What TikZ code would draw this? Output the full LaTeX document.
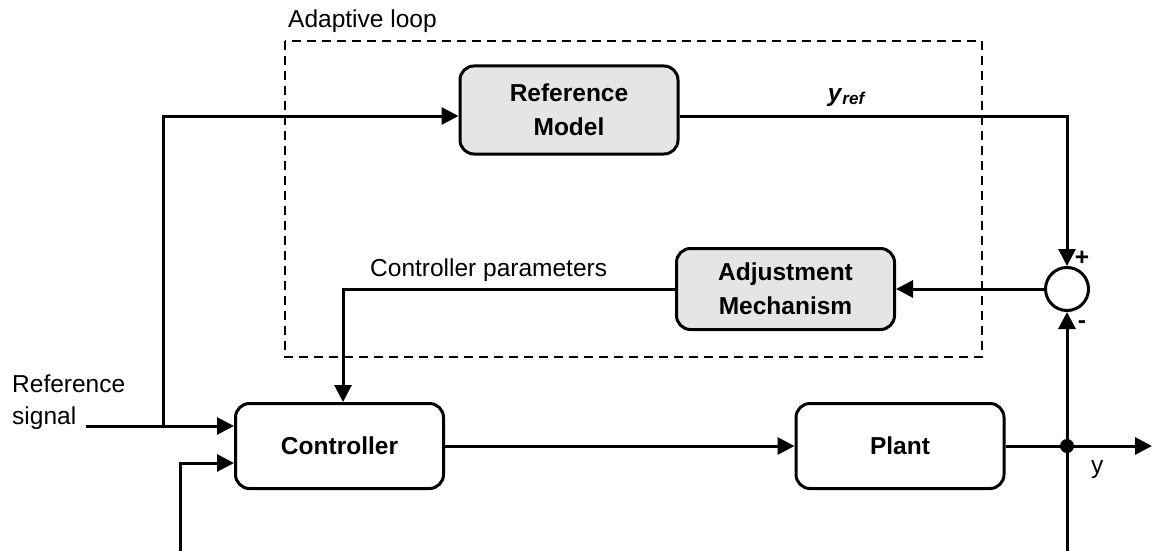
\documentclass[tikz,border=0pt]{standalone}
\usepackage{fontspec}
\setmainfont{Liberation Sans}
\usetikzlibrary{arrows.meta}

\begin{document}
\begin{tikzpicture}[x=1pt,y=-1pt,
  txt/.style={inner sep=0pt, font=\fontsize{24.5}{33}\selectfont},
  block/.style={draw, line width=3pt, rounded corners=14pt, inner sep=0pt,
    minimum width=208pt, minimum height=85pt, align=center,
    font=\fontsize{24.5}{34}\selectfont\bfseries},
  greybox/.style={block, fill=black!10, minimum width=218pt},
  wire/.style={line width=3pt},
  arr/.style={wire, -{Triangle[length=17pt,width=17pt]}},
  sumnode/.style={circle, draw, line width=3pt, minimum size=43pt, inner sep=0pt}
]
\useasboundingbox (0,0) rectangle (1154,551);

% adaptive loop frame
\draw[line width=2pt, dash pattern=on 9pt off 6pt] (285,41) rectangle (982,357);
\node[txt, anchor=base west] (looplbl) at (288,28) {Adaptive loop};

% blocks
\node[greybox, minimum height=88pt] (refm) at (569,110) {Reference\\Model};
\node[greybox, minimum height=81pt] (adj) at (785.5,289) {Adjustment\\Mechanism};
\node[block] (ctrl) at (339.5,446) {Controller};
\node[block] (plant) at (900,446) {Plant};
\node[sumnode] (sum) at (1067,289) {};

% free ends
\coordinate (rs) at (86,426);
\coordinate (br) at (163,426);
\coordinate (fb) at (180,551);
\coordinate (fbr) at (1067,551);
\coordinate (dot) at (1067,446);
\coordinate (out) at (1152,446);

% reference signal and its branch to the reference model
\draw[arr] (rs) -- (rs -| ctrl.west);
\draw[arr] (br) |- ([yshift=-6pt]refm.west);
\draw[arr] (fb) |- ([yshift=-17pt]ctrl.west);

% reference model output to the summing junction
\draw[arr] ([yshift=-6pt]refm.east) -| (sum.north);
\node[txt, anchor=base] (yref) at (847,101)
  {\textbf{\textit{y}}\textsubscript{\textbf{\textit{ref}}}};

% error to adjustment mechanism, parameters to controller
\draw[arr] (sum.west) -- (adj.east);
\draw[arr] (adj.west) -| ([xshift=3.5pt]ctrl.north);
\node[txt, anchor=base west] (parlbl) at (370,276) {Controller parameters};

% forward path and output
\draw[arr] (ctrl.east) -- (plant.west);
\draw[arr] (plant.east) -- (out);
\draw[arr] (fbr) -- (sum.south);
\fill (dot) circle (7pt);
\node[txt, anchor=base west] (ylbl) at (1091,473) {y};

% signs at the summing junction
\node[txt, font=\fontsize{24.5}{30}\selectfont\bfseries] (plus) at (1082,258) {+};
\node[txt, font=\fontsize{24.5}{30}\selectfont\bfseries] (minus) at (1082,325) {-};

% input labels
\node[txt, anchor=base west] (rl1) at (12,392) {Reference};
\node[txt, anchor=base west] (rl2) at (12,424) {signal};
\end{tikzpicture}
\end{document}
